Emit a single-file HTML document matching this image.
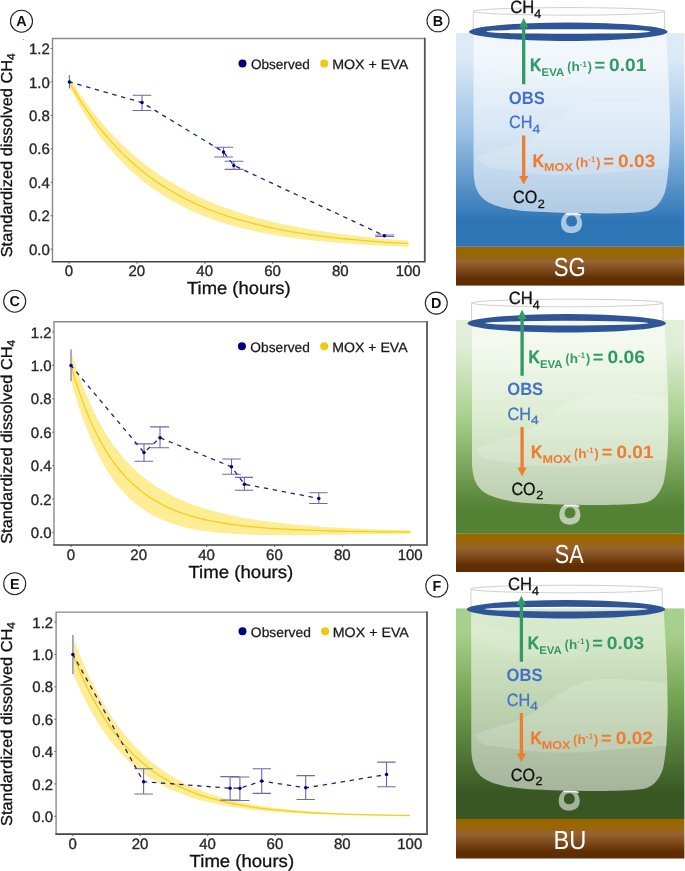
<!DOCTYPE html>
<html lang="en"><head><meta charset="utf-8"><title>Figure</title>
<style>html,body{margin:0;padding:0;background:#fff;width:685px;height:871px;overflow:hidden}svg{display:block}text{font-family:'Liberation Sans', sans-serif;white-space:pre;text-rendering:geometricPrecision}</style></head><body>
<svg width="685" height="871" viewBox="0 0 685 871" role="img" aria-label="Standardized dissolved methane over time with MOX and EVA model, and mesocosm diagrams for SG, SA and BU">
<defs><linearGradient id="sed" x1="0" y1="0" x2="0" y2="1"><stop offset="0" stop-color="#996600"/><stop offset="0.18" stop-color="#996600"/><stop offset="0.38" stop-color="#966432"/><stop offset="0.82" stop-color="#622f02"/><stop offset="1" stop-color="#5e2c00"/></linearGradient></defs>
<rect width="685" height="871" fill="#fff"/>
<circle cx="23.4" cy="39.6" r="0.7" fill="#8a8ac4"/>
<g id="plot-A">
<path d="M52.5,261.7 V38.5 H424.8" fill="none" stroke="#8a8a8a" stroke-width="1.4"/>
<path d="M51.8,261.7 H424.8" fill="none" stroke="#444" stroke-width="1.6"/>
<path d="M424.8,262.5 V37.8" fill="none" stroke="#555" stroke-width="1.8"/>
<line x1="50.7" x2="52.5" y1="249.2" y2="249.2" stroke="#666"/>
<text x="49.8" y="254.8" font-size="15" fill="#262626" text-anchor="end" stroke="#262626" stroke-width="0.35">0.0</text>
<line x1="50.7" x2="52.5" y1="215.74" y2="215.74" stroke="#666"/>
<text x="49.8" y="221.34" font-size="15" fill="#262626" text-anchor="end" stroke="#262626" stroke-width="0.35">0.2</text>
<line x1="50.7" x2="52.5" y1="182.28" y2="182.28" stroke="#666"/>
<text x="49.8" y="187.88" font-size="15" fill="#262626" text-anchor="end" stroke="#262626" stroke-width="0.35">0.4</text>
<line x1="50.7" x2="52.5" y1="148.82" y2="148.82" stroke="#666"/>
<text x="49.8" y="154.42" font-size="15" fill="#262626" text-anchor="end" stroke="#262626" stroke-width="0.35">0.6</text>
<line x1="50.7" x2="52.5" y1="115.36" y2="115.36" stroke="#666"/>
<text x="49.8" y="120.96" font-size="15" fill="#262626" text-anchor="end" stroke="#262626" stroke-width="0.35">0.8</text>
<line x1="50.7" x2="52.5" y1="81.9" y2="81.9" stroke="#666"/>
<text x="49.8" y="87.5" font-size="15" fill="#262626" text-anchor="end" stroke="#262626" stroke-width="0.35">1.0</text>
<line x1="50.7" x2="52.5" y1="48.44" y2="48.44" stroke="#666"/>
<text x="49.8" y="54.04" font-size="15" fill="#262626" text-anchor="end" stroke="#262626" stroke-width="0.35">1.2</text>
<line x1="69.2" x2="69.2" y1="261.7" y2="263.7" stroke="#555"/>
<text x="69" y="276.1" font-size="15" fill="#262626" text-anchor="middle" stroke="#262626" stroke-width="0.35">0</text>
<line x1="137.04" x2="137.04" y1="261.7" y2="263.7" stroke="#555"/>
<text x="136.84" y="276.1" font-size="15" fill="#262626" text-anchor="middle" stroke="#262626" stroke-width="0.35">20</text>
<line x1="204.88" x2="204.88" y1="261.7" y2="263.7" stroke="#555"/>
<text x="204.68" y="276.1" font-size="15" fill="#262626" text-anchor="middle" stroke="#262626" stroke-width="0.35">40</text>
<line x1="272.72" x2="272.72" y1="261.7" y2="263.7" stroke="#555"/>
<text x="272.52" y="276.1" font-size="15" fill="#262626" text-anchor="middle" stroke="#262626" stroke-width="0.35">60</text>
<line x1="340.56" x2="340.56" y1="261.7" y2="263.7" stroke="#555"/>
<text x="340.36" y="276.1" font-size="15" fill="#262626" text-anchor="middle" stroke="#262626" stroke-width="0.35">80</text>
<line x1="408.4" x2="408.4" y1="261.7" y2="263.7" stroke="#555"/>
<text x="408.2" y="276.1" font-size="15" fill="#262626" text-anchor="middle" stroke="#262626" stroke-width="0.35">100</text>
<path d="M69.2,77.1 70.5,79.3 73.0,83.3 76.2,88.2 79.9,93.9 84.2,100.1 88.9,106.6 94.0,113.3 99.5,120.1 105.4,127.0 111.6,133.9 118.1,140.6 124.9,147.2 132.0,153.7 139.4,159.9 147.1,165.9 155.0,171.7 163.2,177.2 171.6,182.5 180.2,187.4 189.1,192.1 198.2,196.6 207.6,200.7 217.1,204.7 226.8,208.3 236.8,211.7 247.0,214.9 257.3,217.9 267.9,220.6 278.6,223.2 289.5,225.5 300.6,227.7 311.9,229.7 323.4,231.5 335.0,233.2 346.8,234.8 358.8,236.2 371.0,237.5 383.3,238.7 395.8,239.7 408.4,240.7 408.4,246.7 395.8,246.2 383.3,245.7 371.0,245.0 358.8,244.3 346.8,243.5 335.0,242.6 323.4,241.5 311.9,240.3 300.6,238.9 289.5,237.4 278.6,235.7 267.9,233.8 257.3,231.7 247.0,229.4 236.8,226.8 226.8,224.0 217.1,220.9 207.6,217.4 198.2,213.7 189.1,209.7 180.2,205.3 171.6,200.6 163.2,195.6 155.0,190.1 147.1,184.4 139.4,178.3 132.0,171.9 124.9,165.1 118.1,158.1 111.6,150.8 105.4,143.4 99.5,135.9 94.0,128.3 88.9,120.7 84.2,113.4 79.9,106.3 76.2,99.8 73.0,94.1 70.5,89.5 69.2,87.0Z" fill="#feed94"/>
<path d="M69.2,81.9 70.5,84.3 73.0,88.5 76.2,93.9 79.9,99.9 84.2,106.5 88.9,113.4 94.0,120.6 99.5,127.8 105.4,135.0 111.6,142.1 118.1,149.1 124.9,155.9 132.0,162.5 139.4,168.8 147.1,174.9 155.0,180.7 163.2,186.1 171.6,191.3 180.2,196.1 189.1,200.7 198.2,204.9 207.6,208.9 217.1,212.5 226.8,215.9 236.8,219.1 247.0,221.9 257.3,224.6 267.9,227.0 278.6,229.3 289.5,231.3 300.6,233.2 311.9,234.8 323.4,236.4 335.0,237.8 346.8,239.0 358.8,240.1 371.0,241.2 383.3,242.1 395.8,242.9 408.4,243.6" fill="none" stroke="#f4cf1c" stroke-width="1.3"/>
<g stroke="#6a6ab4" stroke-width="1.1">
<path d="M69.4,74.9V88.6" fill="none"/>
<path d="M142,95.2V110.5M132.6,95.2H151.4M132.6,110.5H151.4" fill="none"/>
<path d="M223.5,147.3V157M214.3,147.3H233M214.3,157H233" fill="none"/>
<path d="M233.8,161.3V169.4M224.6,161.3H243.4M224.6,169.4H243.4" fill="none"/>
<path d="M384.4,235V236.5M375.3,235H394.2M375.3,236.5H394.2" fill="none"/>
</g>
<path d="M69.4,81.9 142,102.5 223.5,152 233.8,165.4 384.4,235.7" fill="none" stroke="#20208a" stroke-width="1.3" stroke-dasharray="4.4 4.7" stroke-dashoffset="0.9"/>
<circle cx="69.4" cy="81.9" r="1.75" fill="#00007f"/>
<circle cx="142" cy="102.5" r="1.75" fill="#00007f"/>
<circle cx="223.5" cy="152" r="1.75" fill="#00007f"/>
<circle cx="233.8" cy="165.4" r="1.75" fill="#00007f"/>
<circle cx="384.4" cy="235.7" r="1.75" fill="#00007f"/>
<circle cx="242.5" cy="63.4" r="4" fill="#00007f"/>
<circle cx="324.2" cy="63.4" r="4" fill="#f2c80f"/>
<text x="250.89" y="68.7" font-size="13.6" fill="#1a1a1a" textLength="58.94" lengthAdjust="spacingAndGlyphs" stroke="#1a1a1a" stroke-width="0.25">Observed</text>
<text x="332.16" y="68.7" font-size="13.6" fill="#1a1a1a" textLength="76.1" lengthAdjust="spacingAndGlyphs" stroke="#1a1a1a" stroke-width="0.25">MOX + EVA</text>
<text x="187.03" y="294.4" font-size="17.6" fill="#111" textLength="103.64" lengthAdjust="spacingAndGlyphs" stroke="#111" stroke-width="0.3">Time (hours)</text>
<text transform="translate(12.4,257.3) rotate(-90)" font-size="15.8" fill="#111" stroke="#111" stroke-width="0.3" textLength="204" lengthAdjust="spacingAndGlyphs">Standardized dissolved CH<tspan font-size="11.5" dy="3">4</tspan></text>
<circle cx="21.5" cy="21.2" r="11" fill="#fff" stroke="#222" stroke-width="1.1"/>
<text x="21.5" y="26.3" font-size="14.4" fill="#111" font-weight="bold" text-anchor="middle">A</text>
</g>
<g id="plot-C">
<path d="M54.0,545.0 V321.8 H427.0" fill="none" stroke="#8a8a8a" stroke-width="1.4"/>
<path d="M53.3,545.0 H427.0" fill="none" stroke="#444" stroke-width="1.6"/>
<path d="M427.0,545.8 V321.1" fill="none" stroke="#555" stroke-width="1.8"/>
<line x1="52.2" x2="54" y1="532.4" y2="532.4" stroke="#666"/>
<text x="51.7" y="538" font-size="15" fill="#262626" text-anchor="end" stroke="#262626" stroke-width="0.35">0.0</text>
<line x1="52.2" x2="54" y1="499" y2="499" stroke="#666"/>
<text x="51.7" y="504.6" font-size="15" fill="#262626" text-anchor="end" stroke="#262626" stroke-width="0.35">0.2</text>
<line x1="52.2" x2="54" y1="465.6" y2="465.6" stroke="#666"/>
<text x="51.7" y="471.2" font-size="15" fill="#262626" text-anchor="end" stroke="#262626" stroke-width="0.35">0.4</text>
<line x1="52.2" x2="54" y1="432.2" y2="432.2" stroke="#666"/>
<text x="51.7" y="437.8" font-size="15" fill="#262626" text-anchor="end" stroke="#262626" stroke-width="0.35">0.6</text>
<line x1="52.2" x2="54" y1="398.8" y2="398.8" stroke="#666"/>
<text x="51.7" y="404.4" font-size="15" fill="#262626" text-anchor="end" stroke="#262626" stroke-width="0.35">0.8</text>
<line x1="52.2" x2="54" y1="365.4" y2="365.4" stroke="#666"/>
<text x="51.7" y="371" font-size="15" fill="#262626" text-anchor="end" stroke="#262626" stroke-width="0.35">1.0</text>
<line x1="52.2" x2="54" y1="332" y2="332" stroke="#666"/>
<text x="51.7" y="337.6" font-size="15" fill="#262626" text-anchor="end" stroke="#262626" stroke-width="0.35">1.2</text>
<line x1="71" x2="71" y1="545" y2="547" stroke="#555"/>
<text x="70.8" y="559.8" font-size="15" fill="#262626" text-anchor="middle" stroke="#262626" stroke-width="0.35">0</text>
<line x1="138.88" x2="138.88" y1="545" y2="547" stroke="#555"/>
<text x="138.68" y="559.8" font-size="15" fill="#262626" text-anchor="middle" stroke="#262626" stroke-width="0.35">20</text>
<line x1="206.76" x2="206.76" y1="545" y2="547" stroke="#555"/>
<text x="206.56" y="559.8" font-size="15" fill="#262626" text-anchor="middle" stroke="#262626" stroke-width="0.35">40</text>
<line x1="274.64" x2="274.64" y1="545" y2="547" stroke="#555"/>
<text x="274.44" y="559.8" font-size="15" fill="#262626" text-anchor="middle" stroke="#262626" stroke-width="0.35">60</text>
<line x1="342.52" x2="342.52" y1="545" y2="547" stroke="#555"/>
<text x="342.32" y="559.8" font-size="15" fill="#262626" text-anchor="middle" stroke="#262626" stroke-width="0.35">80</text>
<line x1="410.4" x2="410.4" y1="545" y2="547" stroke="#555"/>
<text x="410.2" y="559.8" font-size="15" fill="#262626" text-anchor="middle" stroke="#262626" stroke-width="0.35">100</text>
<path d="M71.0,351.0 72.3,355.4 74.8,363.2 78.0,372.7 81.7,383.1 86.0,394.0 90.7,404.9 95.8,415.6 101.4,425.9 107.2,435.7 113.4,444.9 119.9,453.5 126.8,461.4 133.9,468.7 141.3,475.4 148.9,481.4 156.9,486.9 165.0,491.8 173.5,496.3 182.1,500.3 191.0,503.9 200.1,507.1 209.4,510.0 219.0,512.6 228.7,514.9 238.7,516.9 248.9,518.7 259.2,520.4 269.8,521.8 280.5,523.1 291.4,524.2 302.6,525.2 313.9,526.1 325.3,526.9 337.0,527.6 348.8,528.2 360.8,528.8 372.9,529.2 385.3,529.7 397.8,530.0 410.4,530.4 410.4,533.7 397.8,533.9 385.3,534.0 372.9,534.2 360.8,534.3 348.8,534.5 337.0,534.7 325.3,534.8 313.9,534.9 302.6,535.0 291.4,535.1 280.5,535.1 269.8,535.0 259.2,534.9 248.9,534.6 238.7,534.2 228.7,533.6 219.0,532.8 209.4,531.8 200.1,530.4 191.0,528.7 182.1,526.7 173.5,524.1 165.0,521.1 156.9,517.4 148.9,513.1 141.3,508.1 133.9,502.4 126.8,495.8 119.9,488.3 113.4,480.0 107.2,470.8 101.4,460.8 95.8,450.1 90.7,438.8 86.0,427.2 81.7,415.5 78.0,404.2 74.8,393.9 72.3,385.4 71.0,380.6Z" fill="#feed94"/>
<path d="M71.0,365.4 72.3,370.0 74.8,378.2 78.0,388.1 81.7,398.9 86.0,410.2 90.7,421.4 95.8,432.4 101.4,442.9 107.2,452.8 113.4,462.0 119.9,470.5 126.8,478.2 133.9,485.1 141.3,491.3 148.9,496.9 156.9,501.8 165.0,506.1 173.5,509.9 182.1,513.2 191.0,516.0 200.1,518.5 209.4,520.6 219.0,522.4 228.7,524.0 238.7,525.3 248.9,526.5 259.2,527.4 269.8,528.3 280.5,528.9 291.4,529.5 302.6,530.0 313.9,530.4 325.3,530.8 337.0,531.0 348.8,531.3 360.8,531.5 372.9,531.6 385.3,531.8 397.8,531.9 410.4,532.0" fill="none" stroke="#f4cf1c" stroke-width="1.3"/>
<g stroke="#6a6ab4" stroke-width="1.1">
<path d="M71,349.2V380.9" fill="none"/>
<path d="M144,443.9V461.3M134.4,443.9H153.2M134.4,461.3H153.2" fill="none"/>
<path d="M160,426.9V447.8M150.1,426.9H169.1M150.1,447.8H169.1" fill="none"/>
<path d="M231.5,459V474.3M222.3,459H240.7M222.3,474.3H240.7" fill="none"/>
<path d="M244.4,477.4V490.3M234.8,477.4H253M234.8,490.3H253" fill="none"/>
<path d="M318.8,492.7V503.5M309.2,492.7H327.6M309.2,503.5H327.6" fill="none"/>
</g>
<path d="M71,365.5 144,452.5 160,437.8 231.5,466.8 244.4,484.2 318.8,498.4" fill="none" stroke="#20208a" stroke-width="1.3" stroke-dasharray="4.4 4.7" stroke-dashoffset="0.9"/>
<circle cx="71" cy="365.5" r="1.75" fill="#00007f"/>
<circle cx="144" cy="452.5" r="1.75" fill="#00007f"/>
<circle cx="160" cy="437.8" r="1.75" fill="#00007f"/>
<circle cx="231.5" cy="466.8" r="1.75" fill="#00007f"/>
<circle cx="244.4" cy="484.2" r="1.75" fill="#00007f"/>
<circle cx="318.8" cy="498.4" r="1.75" fill="#00007f"/>
<circle cx="241.9" cy="346.3" r="4" fill="#00007f"/>
<circle cx="324.2" cy="346.3" r="4" fill="#f2c80f"/>
<text x="250.38" y="351.7" font-size="13.6" fill="#1a1a1a" textLength="59.46" lengthAdjust="spacingAndGlyphs" stroke="#1a1a1a" stroke-width="0.25">Observed</text>
<text x="332.17" y="351.7" font-size="13.6" fill="#1a1a1a" textLength="75.49" lengthAdjust="spacingAndGlyphs" stroke="#1a1a1a" stroke-width="0.25">MOX + EVA</text>
<text x="188.43" y="578" font-size="17.6" fill="#111" textLength="104.85" lengthAdjust="spacingAndGlyphs" stroke="#111" stroke-width="0.3">Time (hours)</text>
<text transform="translate(12.4,543.8) rotate(-90)" font-size="15.8" fill="#111" stroke="#111" stroke-width="0.3" textLength="204" lengthAdjust="spacingAndGlyphs">Standardized dissolved CH<tspan font-size="11.5" dy="3">4</tspan></text>
<circle cx="14.7" cy="301.2" r="11" fill="#fff" stroke="#222" stroke-width="1.1"/>
<text x="14.7" y="306.3" font-size="14.4" fill="#111" font-weight="bold" text-anchor="middle">C</text>
</g>
<g id="plot-E">
<path d="M56.1,834.1 V612.1 H427.0" fill="none" stroke="#8a8a8a" stroke-width="1.4"/>
<path d="M55.4,834.1 H427.0" fill="none" stroke="#444" stroke-width="1.6"/>
<path d="M427.0,834.9 V611.4" fill="none" stroke="#555" stroke-width="1.8"/>
<line x1="54.3" x2="56.1" y1="816.3" y2="816.3" stroke="#666"/>
<text x="53.2" y="821.9" font-size="15" fill="#262626" text-anchor="end" stroke="#262626" stroke-width="0.35">0.0</text>
<line x1="54.3" x2="56.1" y1="783.94" y2="783.94" stroke="#666"/>
<text x="53.2" y="789.54" font-size="15" fill="#262626" text-anchor="end" stroke="#262626" stroke-width="0.35">0.2</text>
<line x1="54.3" x2="56.1" y1="751.58" y2="751.58" stroke="#666"/>
<text x="53.2" y="757.18" font-size="15" fill="#262626" text-anchor="end" stroke="#262626" stroke-width="0.35">0.4</text>
<line x1="54.3" x2="56.1" y1="719.22" y2="719.22" stroke="#666"/>
<text x="53.2" y="724.82" font-size="15" fill="#262626" text-anchor="end" stroke="#262626" stroke-width="0.35">0.6</text>
<line x1="54.3" x2="56.1" y1="686.86" y2="686.86" stroke="#666"/>
<text x="53.2" y="692.46" font-size="15" fill="#262626" text-anchor="end" stroke="#262626" stroke-width="0.35">0.8</text>
<line x1="54.3" x2="56.1" y1="654.5" y2="654.5" stroke="#666"/>
<text x="53.2" y="660.1" font-size="15" fill="#262626" text-anchor="end" stroke="#262626" stroke-width="0.35">1.0</text>
<line x1="54.3" x2="56.1" y1="622.14" y2="622.14" stroke="#666"/>
<text x="53.2" y="627.74" font-size="15" fill="#262626" text-anchor="end" stroke="#262626" stroke-width="0.35">1.2</text>
<line x1="72.9" x2="72.9" y1="834.1" y2="836.1" stroke="#555"/>
<text x="72.7" y="848.7" font-size="15" fill="#262626" text-anchor="middle" stroke="#262626" stroke-width="0.35">0</text>
<line x1="140.32" x2="140.32" y1="834.1" y2="836.1" stroke="#555"/>
<text x="140.12" y="848.7" font-size="15" fill="#262626" text-anchor="middle" stroke="#262626" stroke-width="0.35">20</text>
<line x1="207.74" x2="207.74" y1="834.1" y2="836.1" stroke="#555"/>
<text x="207.54" y="848.7" font-size="15" fill="#262626" text-anchor="middle" stroke="#262626" stroke-width="0.35">40</text>
<line x1="275.16" x2="275.16" y1="834.1" y2="836.1" stroke="#555"/>
<text x="274.96" y="848.7" font-size="15" fill="#262626" text-anchor="middle" stroke="#262626" stroke-width="0.35">60</text>
<line x1="342.58" x2="342.58" y1="834.1" y2="836.1" stroke="#555"/>
<text x="342.38" y="848.7" font-size="15" fill="#262626" text-anchor="middle" stroke="#262626" stroke-width="0.35">80</text>
<line x1="410" x2="410" y1="834.1" y2="836.1" stroke="#555"/>
<text x="409.8" y="848.7" font-size="15" fill="#262626" text-anchor="middle" stroke="#262626" stroke-width="0.35">100</text>
<path d="M72.9,637.1 74.2,640.7 76.7,647.1 79.8,655.0 83.6,663.8 87.8,673.3 92.5,683.1 97.6,693.0 103.1,702.8 108.9,712.4 115.0,721.7 121.5,730.5 128.3,738.9 135.4,746.8 142.7,754.1 150.3,760.9 158.2,767.1 166.3,772.8 174.7,778.0 183.3,782.7 192.1,786.9 201.1,790.6 210.4,794.0 219.9,797.0 229.6,799.6 239.5,802.0 249.6,804.0 259.8,805.8 270.3,807.3 281.0,808.7 291.9,809.8 302.9,810.8 314.1,811.7 325.5,812.4 337.1,813.0 348.8,813.6 360.7,814.0 372.8,814.4 385.0,814.7 397.4,815.0 410.0,815.2 410.0,815.9 397.4,815.8 385.0,815.7 372.8,815.5 360.7,815.3 348.8,815.1 337.1,814.8 325.5,814.5 314.1,814.1 302.9,813.6 291.9,813.0 281.0,812.3 270.3,811.5 259.8,810.5 249.6,809.4 239.5,808.1 229.6,806.6 219.9,804.8 210.4,802.7 201.1,800.4 192.1,797.7 183.3,794.6 174.7,791.2 166.3,787.3 158.2,782.9 150.3,778.1 142.7,772.8 135.4,767.0 128.3,760.6 121.5,753.8 115.0,746.5 108.9,738.7 103.1,730.6 97.6,722.3 92.5,713.8 87.8,705.3 83.6,697.0 79.8,689.1 76.7,682.1 74.2,676.5 72.9,673.3Z" fill="#feed94"/>
<path d="M72.9,654.5 74.2,657.9 76.7,663.9 79.8,671.4 83.6,679.8 87.8,688.7 92.5,697.9 97.6,707.1 103.1,716.2 108.9,725.1 115.0,733.6 121.5,741.7 128.3,749.3 135.4,756.5 142.7,763.1 150.3,769.2 158.2,774.7 166.3,779.8 174.7,784.3 183.3,788.4 192.1,792.1 201.1,795.3 210.4,798.2 219.9,800.7 229.6,803.0 239.5,804.9 249.6,806.6 259.8,808.1 270.3,809.3 281.0,810.4 291.9,811.4 302.9,812.2 314.1,812.8 325.5,813.4 337.1,813.9 348.8,814.3 360.7,814.6 372.8,814.9 385.0,815.2 397.4,815.4 410.0,815.5" fill="none" stroke="#f4cf1c" stroke-width="1.3"/>
<g stroke="#6a6ab4" stroke-width="1.1">
<path d="M72.9,635.1V673.9" fill="none"/>
<path d="M143.6,768.8V794M134.4,768.8H152.8M134.4,794H152.8" fill="none"/>
<path d="M230.1,776.6V800.1M220.3,776.6H239.3M220.3,800.1H239.3" fill="none"/>
<path d="M239.9,777V800.5M230.7,777H249.5M230.7,800.5H249.5" fill="none"/>
<path d="M261.7,768.8V793.4M252.6,768.8H271M252.6,793.4H271" fill="none"/>
<path d="M305.7,775.6V799.5M296.5,775.6H314.9M296.5,799.5H314.9" fill="none"/>
<path d="M386.5,762.1V786.8M377.3,762.1H395.6M377.3,786.8H395.6" fill="none"/>
</g>
<path d="M72.9,654.5 143.6,781.7 230.1,788.2 239.9,788.2 261.7,781.1 305.7,787.8 386.5,774.6" fill="none" stroke="#20208a" stroke-width="1.3" stroke-dasharray="4.4 4.7" stroke-dashoffset="0.9"/>
<circle cx="72.9" cy="654.5" r="1.75" fill="#00007f"/>
<circle cx="143.6" cy="781.7" r="1.75" fill="#00007f"/>
<circle cx="230.1" cy="788.2" r="1.75" fill="#00007f"/>
<circle cx="239.9" cy="788.2" r="1.75" fill="#00007f"/>
<circle cx="261.7" cy="781.1" r="1.75" fill="#00007f"/>
<circle cx="305.7" cy="787.8" r="1.75" fill="#00007f"/>
<circle cx="386.5" cy="774.6" r="1.75" fill="#00007f"/>
<circle cx="242.5" cy="631.3" r="4" fill="#00007f"/>
<circle cx="325.1" cy="631.3" r="4" fill="#f2c80f"/>
<text x="250.88" y="636.8" font-size="13.6" fill="#1a1a1a" textLength="59.97" lengthAdjust="spacingAndGlyphs" stroke="#1a1a1a" stroke-width="0.25">Observed</text>
<text x="332.76" y="636.8" font-size="13.6" fill="#1a1a1a" textLength="76.1" lengthAdjust="spacingAndGlyphs" stroke="#1a1a1a" stroke-width="0.25">MOX + EVA</text>
<text x="189.63" y="867.1" font-size="17.6" fill="#111" textLength="104.45" lengthAdjust="spacingAndGlyphs" stroke="#111" stroke-width="0.3">Time (hours)</text>
<text transform="translate(12.4,826) rotate(-90)" font-size="15.8" fill="#111" stroke="#111" stroke-width="0.3" textLength="204" lengthAdjust="spacingAndGlyphs">Standardized dissolved CH<tspan font-size="11.5" dy="3">4</tspan></text>
<circle cx="14.7" cy="583.7" r="11" fill="#fff" stroke="#222" stroke-width="1.1"/>
<text x="14.7" y="588.8" font-size="14.4" fill="#111" font-weight="bold" text-anchor="middle">E</text>
</g>
<g id="diagram-B">
<defs><linearGradient id="wb" x1="0" y1="0" x2="0" y2="1"><stop offset="0" stop-color="#deebf7"/><stop offset="0.12" stop-color="#dbe9f6"/><stop offset="0.45" stop-color="#9dc3e6"/><stop offset="0.88" stop-color="#2e75b6"/><stop offset="1" stop-color="#2e75b6"/></linearGradient></defs>
<rect x="456.0" y="33.1" width="228.4" height="213.7" fill="url(#wb)"/>
<rect x="456.0" y="246.8" width="228.4" height="38.8" fill="url(#sed)"/>
<g transform="translate(0,0)">
<path d="M473.4,11.5 L473.6,172 C474,184 476.5,193 483.5,199 C492,206 508,210.5 536,211.8 C580,213.5 620,214.5 645,211.5 C655,210 661,203 665,192 C668,180 669.5,160 670,135 C670,100 668,60 664.6,11.5 Z" fill="#fff" fill-opacity="0.6"/>
<path d="M477,157.5 C485,153 500,148.5 514,145 C528,141 538,133 546,127 C565,112 585,102 603,101.5 C625,101 650,103 669.6,106 L669.3,168 C655,169.5 640,170.5 622,171.5 C600,173.5 585,175.5 563,175 C550,175 545,174.5 536,174 C525,172.5 512,170.5 503,169.5 C495,168.5 489,168 485,166.3 C481,164 479,161 477,157.5 Z" fill="#fff" fill-opacity="0.17"/>
<path d="M473.6,46 C500,50 545,62 584,74 C586,77 585,80 582,81 C560,80.5 545,79.5 528,78 C505,75 488,68 473.6,61 Z" fill="#fff" fill-opacity="0.1"/>
<path d="M473.2,11.5 V30 M664.6,11.5 V30" stroke="#c4c4c4" stroke-width="0.8" fill="none"/>
<ellipse cx="568.9" cy="11.4" rx="95.7" ry="3.8" fill="#fdfdfd" stroke="#c4c4c4" stroke-width="0.8"/>
<path fill-rule="evenodd" fill="#fff" fill-opacity="0.6" d="M566,213.2 C562.5,215.5 560.8,219.5 561,224 C561.2,229 564.5,232.6 570,233 C576,233.4 581,231 581.9,225.5 C582.6,220.5 580.5,215.5 577,213.4 Z M571.6,215.6 C568,215.6 566.2,218.5 566.2,221.3 C566.2,224.6 568.3,226.6 571.5,226.6 C575,226.6 577.1,224.6 577,221.2 C576.9,218 575,215.6 571.6,215.6 Z"/>
<path d="M565.8,213.9 H577.2 L581,215" stroke="#fff" stroke-opacity="0.9" stroke-width="1.6" fill="none"/>
<path fill-rule="evenodd" fill="#2f5597" d="M469,31.7 a99.3,9.2 0 1,0 198.6,0 a99.3,9.2 0 1,0 -198.6,0 Z M486.4,31.5 a81.9,2.3 0 1,0 163.8,0 a81.9,2.3 0 1,0 -163.8,0 Z"/>
<text fill="#111"><tspan x="510.27" y="12.6" font-size="17.8" textLength="24.01" lengthAdjust="spacingAndGlyphs" stroke="#111" stroke-width="0.3">CH</tspan><tspan x="534.25" y="17.6" font-size="12" textLength="6.98" lengthAdjust="spacingAndGlyphs" stroke="#111" stroke-width="0.3">4</tspan></text>
<path d="M523.7,18.1 l4.7,9.3 h-3.05 V84.2 h-3.3 V27.4 h-3.05 Z" fill="#339966"/>
<path d="M523.7,184.6 l-4.6,-8.6 h2.95 V135.4 h3.3 V176 h2.95 Z" fill="#ed7d31"/>
<text fill="#339966" font-weight="bold"><tspan x="530.09" y="71.4" font-size="17.8" textLength="11.22" lengthAdjust="spacingAndGlyphs" stroke="#339966" stroke-width="0.4">K</tspan><tspan x="541.56" y="76.2" font-size="11.3" textLength="22.59" lengthAdjust="spacingAndGlyphs">EVA</tspan> <tspan x="567.17" y="71.4" font-size="13" textLength="3.9" lengthAdjust="spacingAndGlyphs">(</tspan><tspan x="571.42" y="71.4" font-size="13" textLength="8.31" lengthAdjust="spacingAndGlyphs">h</tspan><tspan x="579.4" y="66.8" font-size="8" textLength="2.82" lengthAdjust="spacingAndGlyphs">-</tspan><tspan x="582.44" y="66.8" font-size="8" textLength="4.26" lengthAdjust="spacingAndGlyphs">1</tspan><tspan x="587.7" y="71.4" font-size="13" textLength="4.21" lengthAdjust="spacingAndGlyphs">)</tspan> <tspan x="594.47" y="71.4" font-size="17.8" textLength="10.64" lengthAdjust="spacingAndGlyphs">=</tspan> <tspan x="609.13" y="71.4" font-size="17.8" textLength="37.27" lengthAdjust="spacingAndGlyphs">0.01</tspan></text>
<text fill="#ed7d31" font-weight="bold"><tspan x="532.69" y="166.5" font-size="17.8" textLength="11.22" lengthAdjust="spacingAndGlyphs" stroke="#ed7d31" stroke-width="0.4">K</tspan><tspan x="544.08" y="171.3" font-size="11.3" textLength="28.71" lengthAdjust="spacingAndGlyphs">MOX</tspan> <tspan x="575.67" y="166.5" font-size="13" textLength="3.9" lengthAdjust="spacingAndGlyphs">(</tspan><tspan x="579.92" y="166.5" font-size="13" textLength="8.31" lengthAdjust="spacingAndGlyphs">h</tspan><tspan x="587.9" y="161.9" font-size="8" textLength="2.82" lengthAdjust="spacingAndGlyphs">-</tspan><tspan x="590.94" y="161.9" font-size="8" textLength="4.26" lengthAdjust="spacingAndGlyphs">1</tspan><tspan x="596.2" y="166.5" font-size="13" textLength="4.21" lengthAdjust="spacingAndGlyphs">)</tspan> <tspan x="603.27" y="166.5" font-size="17.8" textLength="10.64" lengthAdjust="spacingAndGlyphs">=</tspan> <tspan x="618.13" y="166.5" font-size="17.8" textLength="37.16" lengthAdjust="spacingAndGlyphs">0.03</tspan></text>
<text x="508.84" y="103.8" font-size="17.8" fill="#4472c4" font-weight="bold" textLength="35.98" lengthAdjust="spacingAndGlyphs">OBS</text>
<text fill="#4472c4"><tspan x="509.09" y="128.4" font-size="17.8" textLength="23.47" lengthAdjust="spacingAndGlyphs" stroke="#4472c4" stroke-width="0.25">CH</tspan><tspan x="532.52" y="132.8" font-size="12" textLength="7.74" lengthAdjust="spacingAndGlyphs" stroke="#4472c4" stroke-width="0.25">4</tspan></text>
<text fill="#111"><tspan x="513.09" y="203.3" font-size="17.8" textLength="24.18" lengthAdjust="spacingAndGlyphs" stroke="#111" stroke-width="0.3">CO</tspan><tspan x="537.77" y="207.7" font-size="12" textLength="7.01" lengthAdjust="spacingAndGlyphs" stroke="#111" stroke-width="0.3">2</tspan></text>
</g>
<text x="553.8" y="276.2" font-size="26" fill="#fff" textLength="32.01" lengthAdjust="spacingAndGlyphs">SG</text>
<circle cx="438" cy="20.8" r="11" fill="#fff" stroke="#222" stroke-width="1.1"/>
<text x="438" y="25.9" font-size="14.4" fill="#111" font-weight="bold" text-anchor="middle">B</text>
</g>
<g id="diagram-D">
<defs><linearGradient id="wd" x1="0" y1="0" x2="0" y2="1"><stop offset="0" stop-color="#e2f0d9"/><stop offset="0.12" stop-color="#e0eed7"/><stop offset="0.45" stop-color="#a9d18e"/><stop offset="0.88" stop-color="#548235"/><stop offset="1" stop-color="#548235"/></linearGradient></defs>
<rect x="456.0" y="319.9" width="228.4" height="213.9" fill="url(#wd)"/>
<rect x="456.0" y="533.8" width="228.4" height="38.2" fill="url(#sed)"/>
<g transform="translate(-1.6,291.6)">
<path d="M473.4,11.5 L473.6,172 C474,184 476.5,193 483.5,199 C492,206 508,210.5 536,211.8 C580,213.5 620,214.5 645,211.5 C655,210 661,203 665,192 C668,180 669.5,160 670,135 C670,100 668,60 664.6,11.5 Z" fill="#fff" fill-opacity="0.6"/>
<path d="M477,157.5 C485,153 500,148.5 514,145 C528,141 538,133 546,127 C565,112 585,102 603,101.5 C625,101 650,103 669.6,106 L669.3,168 C655,169.5 640,170.5 622,171.5 C600,173.5 585,175.5 563,175 C550,175 545,174.5 536,174 C525,172.5 512,170.5 503,169.5 C495,168.5 489,168 485,166.3 C481,164 479,161 477,157.5 Z" fill="#fff" fill-opacity="0.17"/>
<path d="M473.6,46 C500,50 545,62 584,74 C586,77 585,80 582,81 C560,80.5 545,79.5 528,78 C505,75 488,68 473.6,61 Z" fill="#fff" fill-opacity="0.1"/>
<path d="M473.2,11.5 V30 M664.6,11.5 V30" stroke="#c4c4c4" stroke-width="0.8" fill="none"/>
<ellipse cx="568.9" cy="11.4" rx="95.7" ry="3.8" fill="#fdfdfd" stroke="#c4c4c4" stroke-width="0.8"/>
<path fill-rule="evenodd" fill="#fff" fill-opacity="0.6" d="M566,213.2 C562.5,215.5 560.8,219.5 561,224 C561.2,229 564.5,232.6 570,233 C576,233.4 581,231 581.9,225.5 C582.6,220.5 580.5,215.5 577,213.4 Z M571.6,215.6 C568,215.6 566.2,218.5 566.2,221.3 C566.2,224.6 568.3,226.6 571.5,226.6 C575,226.6 577.1,224.6 577,221.2 C576.9,218 575,215.6 571.6,215.6 Z"/>
<path d="M565.8,213.9 H577.2 L581,215" stroke="#fff" stroke-opacity="0.9" stroke-width="1.6" fill="none"/>
<path fill-rule="evenodd" fill="#2f5597" d="M469,31.7 a99.3,9.2 0 1,0 198.6,0 a99.3,9.2 0 1,0 -198.6,0 Z M486.4,31.5 a81.9,2.3 0 1,0 163.8,0 a81.9,2.3 0 1,0 -163.8,0 Z"/>
<text fill="#111"><tspan x="510.27" y="12.6" font-size="17.8" textLength="24.01" lengthAdjust="spacingAndGlyphs" stroke="#111" stroke-width="0.3">CH</tspan><tspan x="534.25" y="17.6" font-size="12" textLength="6.98" lengthAdjust="spacingAndGlyphs" stroke="#111" stroke-width="0.3">4</tspan></text>
<path d="M523.7,18.1 l4.7,9.3 h-3.05 V84.2 h-3.3 V27.4 h-3.05 Z" fill="#339966"/>
<path d="M523.7,184.6 l-4.6,-8.6 h2.95 V135.4 h3.3 V176 h2.95 Z" fill="#ed7d31"/>
<text fill="#339966" font-weight="bold"><tspan x="530.09" y="71.4" font-size="17.8" textLength="11.22" lengthAdjust="spacingAndGlyphs" stroke="#339966" stroke-width="0.4">K</tspan><tspan x="541.56" y="76.2" font-size="11.3" textLength="22.59" lengthAdjust="spacingAndGlyphs">EVA</tspan> <tspan x="567.17" y="71.4" font-size="13" textLength="3.9" lengthAdjust="spacingAndGlyphs">(</tspan><tspan x="571.42" y="71.4" font-size="13" textLength="8.31" lengthAdjust="spacingAndGlyphs">h</tspan><tspan x="579.4" y="66.8" font-size="8" textLength="2.82" lengthAdjust="spacingAndGlyphs">-</tspan><tspan x="582.44" y="66.8" font-size="8" textLength="4.26" lengthAdjust="spacingAndGlyphs">1</tspan><tspan x="587.7" y="71.4" font-size="13" textLength="4.21" lengthAdjust="spacingAndGlyphs">)</tspan> <tspan x="594.47" y="71.4" font-size="17.8" textLength="10.64" lengthAdjust="spacingAndGlyphs">=</tspan> <tspan x="609.13" y="71.4" font-size="17.8" textLength="37.47" lengthAdjust="spacingAndGlyphs">0.06</tspan></text>
<text fill="#ed7d31" font-weight="bold"><tspan x="532.69" y="166.5" font-size="17.8" textLength="11.22" lengthAdjust="spacingAndGlyphs" stroke="#ed7d31" stroke-width="0.4">K</tspan><tspan x="544.08" y="171.3" font-size="11.3" textLength="28.71" lengthAdjust="spacingAndGlyphs">MOX</tspan> <tspan x="575.67" y="166.5" font-size="13" textLength="3.9" lengthAdjust="spacingAndGlyphs">(</tspan><tspan x="579.92" y="166.5" font-size="13" textLength="8.31" lengthAdjust="spacingAndGlyphs">h</tspan><tspan x="587.9" y="161.9" font-size="8" textLength="2.82" lengthAdjust="spacingAndGlyphs">-</tspan><tspan x="590.94" y="161.9" font-size="8" textLength="4.26" lengthAdjust="spacingAndGlyphs">1</tspan><tspan x="596.2" y="166.5" font-size="13" textLength="4.21" lengthAdjust="spacingAndGlyphs">)</tspan> <tspan x="603.27" y="166.5" font-size="17.8" textLength="10.64" lengthAdjust="spacingAndGlyphs">=</tspan> <tspan x="618.14" y="166.5" font-size="17.8" textLength="36.96" lengthAdjust="spacingAndGlyphs">0.01</tspan></text>
<text x="508.84" y="103.8" font-size="17.8" fill="#4472c4" font-weight="bold" textLength="35.98" lengthAdjust="spacingAndGlyphs">OBS</text>
<text fill="#4472c4"><tspan x="509.09" y="128.4" font-size="17.8" textLength="23.47" lengthAdjust="spacingAndGlyphs" stroke="#4472c4" stroke-width="0.25">CH</tspan><tspan x="532.52" y="132.8" font-size="12" textLength="7.74" lengthAdjust="spacingAndGlyphs" stroke="#4472c4" stroke-width="0.25">4</tspan></text>
<text fill="#111"><tspan x="513.09" y="203.3" font-size="17.8" textLength="24.18" lengthAdjust="spacingAndGlyphs" stroke="#111" stroke-width="0.3">CO</tspan><tspan x="537.77" y="207.7" font-size="12" textLength="7.01" lengthAdjust="spacingAndGlyphs" stroke="#111" stroke-width="0.3">2</tspan></text>
</g>
<text x="554.82" y="562.8" font-size="26" fill="#fff" textLength="28.91" lengthAdjust="spacingAndGlyphs">SA</text>
<circle cx="436.3" cy="303.1" r="11" fill="#fff" stroke="#222" stroke-width="1.1"/>
<text x="436.3" y="308.2" font-size="14.4" fill="#111" font-weight="bold" text-anchor="middle">D</text>
</g>
<g id="diagram-F">
<defs><linearGradient id="wf" x1="0" y1="0" x2="0" y2="1"><stop offset="0" stop-color="#a9d18e"/><stop offset="0.12" stop-color="#a7cf8c"/><stop offset="0.45" stop-color="#70a050"/><stop offset="0.88" stop-color="#385723"/><stop offset="1" stop-color="#385723"/></linearGradient></defs>
<rect x="456.0" y="608.4" width="228.4" height="210.6" fill="url(#wf)"/>
<rect x="456.0" y="819" width="228.4" height="39.5" fill="url(#sed)"/>
<g transform="translate(-2.3,577.6)">
<path d="M473.4,11.5 L473.6,172 C474,184 476.5,193 483.5,199 C492,206 508,210.5 536,211.8 C580,213.5 620,214.5 645,211.5 C655,210 661,203 665,192 C668,180 669.5,160 670,135 C670,100 668,60 664.6,11.5 Z" fill="#fff" fill-opacity="0.55"/>
<path d="M477,157.5 C485,153 500,148.5 514,145 C528,141 538,133 546,127 C565,112 585,102 603,101.5 C625,101 650,103 669.6,106 L669.3,168 C655,169.5 640,170.5 622,171.5 C600,173.5 585,175.5 563,175 C550,175 545,174.5 536,174 C525,172.5 512,170.5 503,169.5 C495,168.5 489,168 485,166.3 C481,164 479,161 477,157.5 Z" fill="#fff" fill-opacity="0.17"/>
<path d="M473.6,46 C500,50 545,62 584,74 C586,77 585,80 582,81 C560,80.5 545,79.5 528,78 C505,75 488,68 473.6,61 Z" fill="#fff" fill-opacity="0.1"/>
<path d="M473.2,11.5 V30 M664.6,11.5 V30" stroke="#c4c4c4" stroke-width="0.8" fill="none"/>
<ellipse cx="568.9" cy="11.4" rx="95.7" ry="3.8" fill="#fdfdfd" stroke="#c4c4c4" stroke-width="0.8"/>
<path fill-rule="evenodd" fill="#fff" fill-opacity="0.55" d="M566,213.2 C562.5,215.5 560.8,219.5 561,224 C561.2,229 564.5,232.6 570,233 C576,233.4 581,231 581.9,225.5 C582.6,220.5 580.5,215.5 577,213.4 Z M571.6,215.6 C568,215.6 566.2,218.5 566.2,221.3 C566.2,224.6 568.3,226.6 571.5,226.6 C575,226.6 577.1,224.6 577,221.2 C576.9,218 575,215.6 571.6,215.6 Z"/>
<path d="M565.8,213.9 H577.2 L581,215" stroke="#fff" stroke-opacity="0.9" stroke-width="1.6" fill="none"/>
<path fill-rule="evenodd" fill="#2f5597" d="M469,31.7 a99.3,9.2 0 1,0 198.6,0 a99.3,9.2 0 1,0 -198.6,0 Z M486.4,31.5 a81.9,2.3 0 1,0 163.8,0 a81.9,2.3 0 1,0 -163.8,0 Z"/>
<text fill="#111"><tspan x="510.27" y="12.6" font-size="17.8" textLength="24.01" lengthAdjust="spacingAndGlyphs" stroke="#111" stroke-width="0.3">CH</tspan><tspan x="534.25" y="17.6" font-size="12" textLength="6.98" lengthAdjust="spacingAndGlyphs" stroke="#111" stroke-width="0.3">4</tspan></text>
<path d="M523.7,18.1 l4.7,9.3 h-3.05 V84.2 h-3.3 V27.4 h-3.05 Z" fill="#339966"/>
<path d="M523.7,184.6 l-4.6,-8.6 h2.95 V135.4 h3.3 V176 h2.95 Z" fill="#ed7d31"/>
<text fill="#339966" font-weight="bold"><tspan x="530.09" y="71.4" font-size="17.8" textLength="11.22" lengthAdjust="spacingAndGlyphs" stroke="#339966" stroke-width="0.4">K</tspan><tspan x="541.56" y="76.2" font-size="11.3" textLength="22.59" lengthAdjust="spacingAndGlyphs">EVA</tspan> <tspan x="567.17" y="71.4" font-size="13" textLength="3.9" lengthAdjust="spacingAndGlyphs">(</tspan><tspan x="571.42" y="71.4" font-size="13" textLength="8.31" lengthAdjust="spacingAndGlyphs">h</tspan><tspan x="579.4" y="66.8" font-size="8" textLength="2.82" lengthAdjust="spacingAndGlyphs">-</tspan><tspan x="582.44" y="66.8" font-size="8" textLength="4.26" lengthAdjust="spacingAndGlyphs">1</tspan><tspan x="587.7" y="71.4" font-size="13" textLength="4.21" lengthAdjust="spacingAndGlyphs">)</tspan> <tspan x="594.47" y="71.4" font-size="17.8" textLength="10.64" lengthAdjust="spacingAndGlyphs">=</tspan> <tspan x="609.13" y="71.4" font-size="17.8" textLength="37.47" lengthAdjust="spacingAndGlyphs">0.03</tspan></text>
<text fill="#ed7d31" font-weight="bold"><tspan x="532.69" y="166.5" font-size="17.8" textLength="11.22" lengthAdjust="spacingAndGlyphs" stroke="#ed7d31" stroke-width="0.4">K</tspan><tspan x="544.08" y="171.3" font-size="11.3" textLength="28.71" lengthAdjust="spacingAndGlyphs">MOX</tspan> <tspan x="575.67" y="166.5" font-size="13" textLength="3.9" lengthAdjust="spacingAndGlyphs">(</tspan><tspan x="579.92" y="166.5" font-size="13" textLength="8.31" lengthAdjust="spacingAndGlyphs">h</tspan><tspan x="587.9" y="161.9" font-size="8" textLength="2.82" lengthAdjust="spacingAndGlyphs">-</tspan><tspan x="590.94" y="161.9" font-size="8" textLength="4.26" lengthAdjust="spacingAndGlyphs">1</tspan><tspan x="596.2" y="166.5" font-size="13" textLength="4.21" lengthAdjust="spacingAndGlyphs">)</tspan> <tspan x="603.27" y="166.5" font-size="17.8" textLength="10.64" lengthAdjust="spacingAndGlyphs">=</tspan> <tspan x="618.13" y="166.5" font-size="17.8" textLength="37.16" lengthAdjust="spacingAndGlyphs">0.02</tspan></text>
<text x="508.84" y="103.8" font-size="17.8" fill="#4472c4" font-weight="bold" textLength="35.98" lengthAdjust="spacingAndGlyphs">OBS</text>
<text fill="#4472c4"><tspan x="509.09" y="128.4" font-size="17.8" textLength="23.47" lengthAdjust="spacingAndGlyphs" stroke="#4472c4" stroke-width="0.25">CH</tspan><tspan x="532.52" y="132.8" font-size="12" textLength="7.74" lengthAdjust="spacingAndGlyphs" stroke="#4472c4" stroke-width="0.25">4</tspan></text>
<text fill="#111"><tspan x="513.09" y="203.3" font-size="17.8" textLength="24.18" lengthAdjust="spacingAndGlyphs" stroke="#111" stroke-width="0.3">CO</tspan><tspan x="537.77" y="207.7" font-size="12" textLength="7.01" lengthAdjust="spacingAndGlyphs" stroke="#111" stroke-width="0.3">2</tspan></text>
</g>
<text x="553.5" y="848.7" font-size="26" fill="#fff" textLength="32.93" lengthAdjust="spacingAndGlyphs">BU</text>
<circle cx="436.8" cy="586" r="11" fill="#fff" stroke="#222" stroke-width="1.1"/>
<text x="436.8" y="591.1" font-size="14.4" fill="#111" font-weight="bold" text-anchor="middle">F</text>
</g>
</svg></body></html>
